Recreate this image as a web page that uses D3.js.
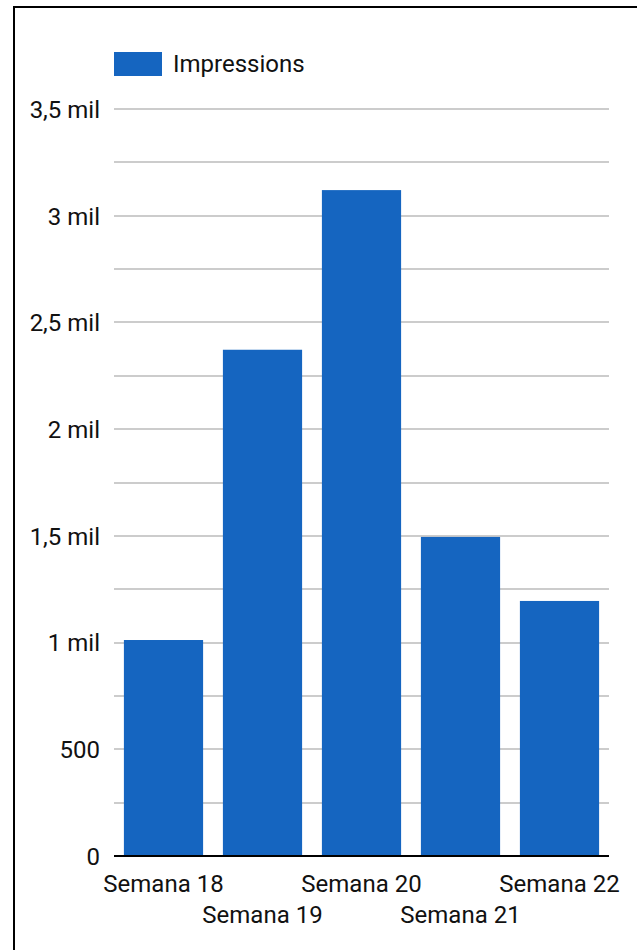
<!DOCTYPE html>
<html>
<head>
<meta charset="utf-8">
<script src="https://cdn.jsdelivr.net/npm/d3@7"></script>
<style>
  html, body { margin: 0; padding: 0; background: #fff; }
  svg { display: block; font-family: Roboto, "Noto Sans", sans-serif; }
</style>
</head>
<body>
<svg id="chart" width="637" height="950"></svg>
<script>
const categories = ["Semana 18", "Semana 19", "Semana 20", "Semana 21", "Semana 22"];
const impressions = [1012, 2372, 3120, 1495, 1195];
const seriesName = "Impressions";
const tickValues = [0, 500, 1000, 1500, 2000, 2500, 3000, 3500];
const tickLabels = ["0", "500", "1 mil", "1,5 mil", "2 mil", "2,5 mil", "3 mil", "3,5 mil"];
const minorTicks = [250, 750, 1250, 1750, 2250, 2750, 3250];

(function () {
const svg = d3.select("#chart");
const pLeft = 114, pRight = 609, pTop = 109, pBottom = 856;
const barColor = "#1565c0";
const fs = 24;

// frame (top and left edges visible)
svg.append("rect").attr("x", 14).attr("y", 7).attr("width", 700).attr("height", 1000)
  .attr("fill", "none").attr("stroke", "#000").attr("stroke-width", 2);

const x = d3.scaleBand().domain(categories).range([pLeft, pRight]).paddingInner(0.2).paddingOuter(0.1);
const y = d3.scaleLinear().domain([0, 3500]).range([pBottom, pTop]);

// gridlines
svg.append("g").selectAll("line").data(tickValues.concat(minorTicks).filter(v => v > 0)).join("line")
  .attr("x1", pLeft).attr("x2", pRight)
  .attr("y1", d => Math.round(y(d))).attr("y2", d => Math.round(y(d)))
  .attr("stroke", "#cccccc").attr("stroke-width", 2);

// y axis labels
const yAxis = d3.axisLeft(y).tickValues(tickValues)
  .tickFormat((d, i) => tickLabels[i]).tickSize(0).tickPadding(0);
const ya = svg.append("g").attr("transform", `translate(${pLeft - 14},0)`).call(yAxis);
ya.select(".domain").remove();
ya.attr("font-size", null).attr("font-family", null);
ya.selectAll("text").attr("font-size", fs).attr("fill", "#111")
  .attr("font-family", "Roboto, sans-serif").attr("dy", "0.35em");

// bars
svg.append("g").selectAll("rect").data(impressions).join("rect")
  .attr("x", (d, i) => x(categories[i]))
  .attr("width", x.bandwidth())
  .attr("y", d => y(d))
  .attr("height", d => y(0) - y(d))
  .attr("fill", barColor);

// baseline
svg.append("line").attr("x1", pLeft).attr("x2", pRight)
  .attr("y1", y(0)).attr("y2", y(0)).attr("stroke", "#000").attr("stroke-width", 2);

// x axis labels (staggered)
const xAxis = d3.axisBottom(x).tickSize(0).tickPadding(0);
const xa = svg.append("g").attr("transform", `translate(0,${pBottom})`).call(xAxis);
xa.select(".domain").remove();
xa.attr("font-size", null).attr("font-family", null);
xa.selectAll("text").attr("font-size", fs).attr("fill", "#111")
  .attr("font-family", "Roboto, sans-serif")
  .attr("dy", null)
  .attr("y", (d, i) => i % 2 === 0 ? 36 : 67);

// legend
svg.append("rect").attr("x", 114).attr("y", 52).attr("width", 48).attr("height", 24).attr("fill", barColor);
svg.append("text").attr("x", 173).attr("y", 72).attr("font-size", fs).attr("fill", "#111")
  .attr("font-family", "Roboto, sans-serif").text(seriesName);
})();
</script>
</body>
</html>
